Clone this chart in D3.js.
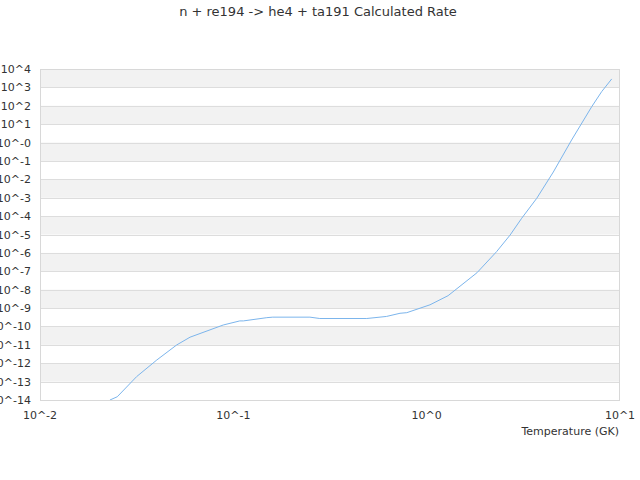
<!DOCTYPE html>
<html lang="en">
<head>
<meta charset="UTF-8">
<title>Calculated Rate</title>
<script src="https://d3js.org/d3.v7.min.js"></script>
<style>
    body { margin: 0; background: #fff; font-family: 'DejaVu Sans', sans-serif; }
    text { fill: #333; }
</style>
</head>
<body>
<svg id="chart" width="640" height="480"></svg>
<script>
    // temperature (GK) and rate
    const temperature = [0.023, 0.0251, 0.0316, 0.0402, 0.0509, 0.0597, 0.0757, 0.0887, 0.108,
        0.1127, 0.149, 0.160, 0.249, 0.28, 0.49, 0.62, 0.728, 0.789, 1.04, 1.29, 1.82, 2.30,
        2.70, 3.10, 3.71, 4.52, 5.62, 7.14, 8.04, 9.06];
    const rate = [1.0e-14, 1.5e-14, 1.86e-13, 1.5e-12, 9.8e-12, 2.6e-11, 6.5e-11, 1.2e-10, 2.0e-10,
        2.0e-10, 3.0e-10, 3.2e-10, 3.2e-10, 2.7e-10, 2.7e-10, 3.5e-10, 5.2e-10, 5.6e-10, 1.5e-9, 4.7e-9,
        8.3e-8, 1.17e-6, 9.3e-6, 7.6e-5, 9.3e-4, 2.5e-2, 1.38, 89, 589, 2880];
    const xTicks = [-2, -1, 0, 1];
    const yTicks = d3.range(-14, 5);
    const title = "n + re194 -> he4 + ta191 Calculated Rate";

    const margin = {top: 69, right: 20, bottom: 80, left: 40};
    const width = 640, height = 480;
    const svg = d3.select("#chart");

    const x = d3.scaleLog().domain([1e-2, 1e1]).range([margin.left, width - margin.right]);
    const y = d3.scaleLog().domain([1e-14, 1e4]).range([height - margin.bottom, margin.top]);

    // alternating bands
    const bands = svg.append("g");
    yTicks.slice(0, -1).forEach(e => {
        if ((4 - e) % 2 === 1) {
            bands.append("rect")
                .attr("x", margin.left)
                .attr("width", width - margin.right - margin.left)
                .attr("y", y(Math.pow(10, e + 1)))
                .attr("height", y(Math.pow(10, e)) - y(Math.pow(10, e + 1)))
                .attr("fill", "#f2f2f2");
        }
    });

    // grid lines
    svg.append("g").selectAll("line")
        .data(yTicks)
        .enter().append("line")
        .attr("x1", margin.left).attr("x2", width - margin.right)
        .attr("y1", d => Math.round(y(Math.pow(10, d))) + 0.5)
        .attr("y2", d => Math.round(y(Math.pow(10, d))) + 0.5)
        .attr("stroke", "#dddddd");

    // plot border
    svg.append("rect")
        .attr("x", margin.left + 0.5).attr("y", margin.top + 0.5)
        .attr("width", width - margin.right - margin.left - 1)
        .attr("height", height - margin.bottom - margin.top)
        .attr("fill", "none").attr("stroke", "#d8d8d8");

    // y labels
    svg.append("g").selectAll("text")
        .data(yTicks)
        .enter().append("text")
        .attr("x", 31)
        .attr("y", d => y(Math.pow(10, d)) + 4)
        .attr("text-anchor", "end")
        .style("font-size", "11px")
        .text(d => "10^" + (d === 0 ? "-0" : d));

    // x labels
    svg.append("g").selectAll("text")
        .data(xTicks)
        .enter().append("text")
        .attr("x", d => x(Math.pow(10, d)))
        .attr("y", 419)
        .attr("text-anchor", "middle")
        .style("font-size", "11px")
        .text(d => "10^" + d);

    svg.append("text")
        .attr("x", 619).attr("y", 435)
        .attr("text-anchor", "end")
        .style("font-size", "11px")
        .text("Temperature (GK)");

    svg.append("text")
        .attr("x", 318).attr("y", 16)
        .attr("text-anchor", "middle")
        .style("font-size", "13px")
        .text(title);

    svg.append("clipPath").attr("id", "clip")
        .append("rect")
        .attr("x", margin.left).attr("y", margin.top)
        .attr("width", width - margin.right - margin.left)
        .attr("height", height - margin.bottom - margin.top);

    const line = d3.line()
        .x(d => x(d[0]))
        .y(d => y(d[1]));

    svg.append("path")
        .datum(d3.zip(temperature, rate))
        .attr("clip-path", "url(#clip)")
        .attr("fill", "none")
        .attr("stroke", "#7cb5ec")
        .attr("stroke-width", 1)
        .attr("d", line);
</script>
</body>
</html>
